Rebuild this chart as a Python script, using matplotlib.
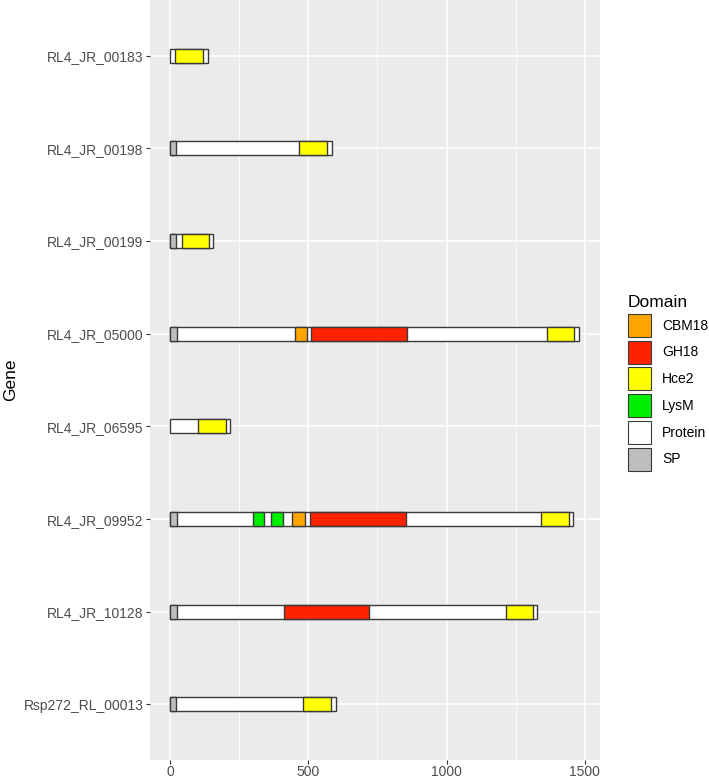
import matplotlib
matplotlib.use('Agg')
from matplotlib import pyplot as plt
from matplotlib.patches import Rectangle, Patch

plt.rcParams['font.family'] = ['Liberation Sans', 'DejaVu Sans']

genes = ['RL4_JR_00183', 'RL4_JR_00198', 'RL4_JR_00199', 'RL4_JR_05000',
         'RL4_JR_06595', 'RL4_JR_09952', 'RL4_JR_10128', 'Rsp272_RL_00013']
protein_length = [135, 587, 154, 1480, 216, 1458, 1329, 598]

# one entry per domain hit
dom_gene = ['RL4_JR_00183',
            'RL4_JR_00198', 'RL4_JR_00198',
            'RL4_JR_00199', 'RL4_JR_00199',
            'RL4_JR_05000', 'RL4_JR_05000', 'RL4_JR_05000', 'RL4_JR_05000',
            'RL4_JR_06595',
            'RL4_JR_09952', 'RL4_JR_09952', 'RL4_JR_09952', 'RL4_JR_09952',
            'RL4_JR_09952', 'RL4_JR_09952',
            'RL4_JR_10128', 'RL4_JR_10128', 'RL4_JR_10128',
            'Rsp272_RL_00013', 'Rsp272_RL_00013']
dom_name = ['Hce2',
            'SP', 'Hce2',
            'SP', 'Hce2',
            'SP', 'CBM18', 'GH18', 'Hce2',
            'Hce2',
            'SP', 'LysM', 'LysM', 'CBM18', 'GH18', 'Hce2',
            'SP', 'GH18', 'Hce2',
            'SP', 'Hce2']
dom_start = [18,
             0, 467,
             0, 41,
             0, 453, 510, 1364,
             101,
             0, 299, 363, 442, 504, 1344,
             0, 413, 1216,
             0, 481]
dom_end = [117,
           20, 567,
           19, 140,
           23, 496, 858, 1462,
           200,
           23, 339, 408, 487, 855, 1443,
           23, 718, 1314,
           20, 581]

domains = ['CBM18', 'GH18', 'Hce2', 'LysM', 'Protein', 'SP']
domain_colors = {'CBM18': '#FFA500', 'GH18': '#FF2200', 'Hce2': '#FFFF00',
                 'LysM': '#00EE00', 'Protein': '#FFFFFF', 'SP': '#BEBEBE'}


def main():
    fig = plt.figure(figsize=(7.09, 7.8), dpi=100)
    ax = fig.add_axes([150 / 709, 20 / 780, 450 / 709, 760 / 780])
    ax.set_facecolor('#EBEBEB')

    n = len(genes)
    ypos = {g: n - i for i, g in enumerate(genes)}
    h = 0.15
    edge = '#3A3A3A'
    lw = 1.0

    for g, length in zip(genes, protein_length):
        ax.add_patch(Rectangle((0, ypos[g] - h / 2), length, h,
                               facecolor=domain_colors['Protein'],
                               edgecolor=edge, linewidth=lw, zorder=3))
    for g, d, s, e in zip(dom_gene, dom_name, dom_start, dom_end):
        ax.add_patch(Rectangle((s, ypos[g] - h / 2), e - s, h,
                               facecolor=domain_colors[d],
                               edgecolor=edge, linewidth=lw, zorder=4))

    ax.set_xlim(-74, 1556)
    ax.set_ylim(0.4, n + 0.6)
    ax.set_xticks([0, 500, 1000, 1500])
    ax.set_xticks([250, 750, 1250], minor=True)
    ax.set_yticks([ypos[g] for g in genes])
    ax.set_yticklabels(genes)
    ax.grid(which='major', color='white', linewidth=1.1, zorder=0)
    ax.grid(which='minor', axis='x', color='white', linewidth=0.55, zorder=0)
    ax.set_axisbelow(True)
    for sp in ax.spines.values():
        sp.set_visible(False)
    ax.tick_params(which='major', length=2.75, width=0.8, color='#333333',
                   labelcolor='#4D4D4D', labelsize=10, pad=2)
    ax.tick_params(axis='x', which='major', pad=0.5)
    ax.tick_params(which='minor', length=0)
    ax.set_ylabel('Gene', fontsize=12.5, color='black', labelpad=4)

    handles = [Patch(facecolor=domain_colors[d], edgecolor='#3A3A3A',
                     linewidth=0.8, label=d) for d in domains]
    fig.legend(handles=handles, title='Domain', loc='upper left',
               bbox_to_anchor=(617 / 709, 1 - 284 / 780),
               frameon=False, fontsize=10, title_fontsize=12.5,
               handlelength=1.66, handleheight=2.17,
               labelspacing=0.27, handletextpad=0.8,
               alignment='left', borderaxespad=0, borderpad=0.8)

    fig.savefig('out.png', dpi=100)


if __name__ == '__main__':
    main()
